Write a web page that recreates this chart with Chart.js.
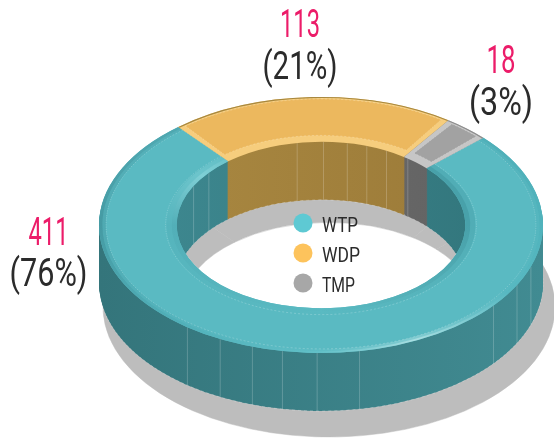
<!DOCTYPE html>
<html lang="en">
<head>
    <meta charset="UTF-8">
    <title>WTP WDP TMP ring</title>
    <script src="https://cdn.jsdelivr.net/npm/chart.js"></script>
    <style>
        html, body { margin: 0; padding: 0; background: #fff; }
        #wrap { width: 554px; height: 438px; position: relative; overflow: hidden; }
    </style>
</head>
<body>
    <div id="wrap"><canvas id="ringChart" width="554" height="438"></canvas></div>

    <script>
        // Data
        const categories = ['WTP', 'WDP', 'TMP'];
        const values = [411, 113, 18];
        const percents = ['(76%)', '(21%)', '(3%)'];

        // Colours
        const faceColors = ['#5abac2', '#ecb85e', '#a2a2a2'];
        const rimColors = ['#5abac2', '#f6cd7d', '#c6c6c6'];
        const dotColors = ['#5ec9d3', '#fdc35c', '#a7a7a7'];
        const innerWallFrom = ['#3f8a92', '#ab8a42', '#747474'];
        const innerWallTo = ['#31747a', '#997837', '#5f5f5f'];
        const outerWallFrom = ['#34757b', '#ab8a42', '#747474'];
        const outerWallTo = ['#418b92', '#997837', '#5f5f5f'];

        // Thin upright seams on the walls, degrees round the ring
        const outerSeams = [-37, -27, -18, -10, -1, 10, 51, 62, 71];
        const innerSeams = [-62, -51, -9.5, 1, 10.5, 18.5, 27, 37];

        // Ellipse the flat ring is squashed into
        const view = { cx: 321, cy: 225, rx: 222, ry: 128, depth: 58 };
        const shadow = { cx: 329, cy: 307, rx: 226, ry: 130 };

        // Label places, index follows categories
        const labelSpots = [
            { x: 48.5, y1: 245, y2: 286, w1: 40, w2: 78 },
            { x: 300, y1: 37, y2: 79, w1: 40, w2: 75 },
            { x: 501, y1: 73, y2: 115, w1: 29, w2: 64 }
        ];
        const legendSpot = { x: 303, y: 223, step: 30, r: 9.5, textX: 322 };
        const legendWidths = [36, 38, 33];

        function squash(ctx, arc, v, dy) {
            const R = arc.outerRadius;
            ctx.translate(v.cx, v.cy + dy);
            ctx.scale(v.rx / R, v.ry / R);
            ctx.translate(-arc.x, -arc.y);
        }

        function drawPiece(ctx, arc, props, options) {
            const piece = new Chart.ArcElement({
                x: arc.x, y: arc.y,
                startAngle: arc.startAngle, endAngle: arc.endAngle,
                innerRadius: arc.innerRadius, outerRadius: arc.outerRadius,
                circumference: arc.endAngle - arc.startAngle,
                ...props
            });
            piece.options = { borderWidth: 0, borderRadius: 0, spacing: 0, offset: 0, borderAlign: 'center', circular: true, ...options };
            piece.draw(ctx);
        }

        function wallGradient(ctx, arc, from, to) {
            const g = ctx.createLinearGradient(arc.x - arc.outerRadius, 0, arc.x + arc.outerRadius, 0);
            g.addColorStop(0, from);
            g.addColorStop(1, to);
            return g;
        }

        function drawWalls(ctx, arcs, from, to) {
            for (let d = view.depth; d >= 1; d--) {
                ctx.save();
                squash(ctx, arcs[0], view, d);
                arcs.forEach((arc, i) => {
                    const opts = { backgroundColor: wallGradient(ctx, arc, from[i], to[i]) };
                    if (d === view.depth) {
                        opts.borderWidth = 0.8;
                        opts.borderColor = 'rgba(255,255,255,0.4)';
                        opts.borderDash = [3, 3];
                    }
                    drawPiece(ctx, arc, {}, opts);
                });
                ctx.restore();
            }
        }

        function drawSeams(ctx, degs, radius, yDir) {
            ctx.save();
            ctx.strokeStyle = 'rgba(255,255,255,0.2)';
            ctx.lineWidth = 1;
            degs.forEach(deg => {
                const a = deg * Math.PI / 180;
                const x = view.cx + view.rx * radius * Math.sin(a);
                const y = view.cy + yDir * view.ry * radius * Math.cos(a);
                ctx.beginPath();
                ctx.moveTo(x, y);
                ctx.lineTo(x, y + view.depth);
                ctx.stroke();
            });
            ctx.restore();
        }

        function drawTop(ctx, arcs) {
            const arc0 = arcs[0];
            const R = arc0.outerRadius;
            const r = arc0.innerRadius;
            ctx.save();
            squash(ctx, arc0, view, 0);

            const outerRim = ctx.createConicGradient(0, arc0.x, arc0.y);
            [[0, '#50b3bc'], [0.09, '#58b9c2'], [0.18, '#a8dee1'], [0.25, '#62c0c8'], [0.35, '#52b2bb'], [0.5, '#459aa3'], [0.6, '#4fa6af'], [1, '#50b3bc']]
                .forEach(s => outerRim.addColorStop(s[0], s[1]));
            const innerRim = ctx.createConicGradient(0, arc0.x, arc0.y);
            [[0, '#48a1aa'], [0.12, '#52adb5'], [0.25, '#5abac2'], [0.5, '#52afb8'], [0.6, '#7fcfd5'], [0.68, '#59b8c0'], [0.85, '#48a1aa'], [1, '#48a1aa']]
                .forEach(s => innerRim.addColorStop(s[0], s[1]));

            const endInset = [0, 0.03, 0.03];

            arcs.forEach((arc, i) => {
                // base is the light rim colour, so the slice ends and hole edge show a bevel
                drawPiece(ctx, arc, {}, { backgroundColor: rimColors[i] });
                if (i === 0) {
                    drawPiece(ctx, arc, { innerRadius: R * 0.97, outerRadius: R }, { backgroundColor: outerRim });
                    drawPiece(ctx, arc, { innerRadius: r, outerRadius: r + R * 0.045 }, { backgroundColor: innerRim });
                    drawPiece(ctx, arc, { innerRadius: R * 0.97, outerRadius: R * 0.985 }, { backgroundColor: 'rgba(90,186,194,0.5)' });
                    drawPiece(ctx, arc, { innerRadius: r + R * 0.022, outerRadius: r + R * 0.045 }, { backgroundColor: 'rgba(90,186,194,0.5)' });
                } else {
                    drawPiece(ctx, arc, { innerRadius: R * 0.992, outerRadius: R }, { backgroundColor: i === 1 ? '#a8883f' : '#8d8d8d' });
                }

                const startA = arc.startAngle + endInset[i];
                const endA = arc.endAngle - endInset[i];
                const face = {
                    startAngle: startA, endAngle: endA, circumference: endA - startA,
                    innerRadius: r + R * 0.05, outerRadius: i === 0 ? R * 0.968 : R * 0.985
                };
                drawPiece(ctx, arc, face, {
                    backgroundColor: faceColors[i],
                    borderWidth: 0.6,
                    borderColor: 'rgba(255,255,255,0.45)',
                    borderDash: [2, 2]
                });
            });
            ctx.restore();
        }

        const ring3d = {
            id: 'ring3d',
            beforeDatasetDraw(chart) {
                const ctx = chart.ctx;
                const arcs = chart.getDatasetMeta(0).data;
                const a0 = arcs[0];

                // ground shadow
                ctx.save();
                squash(ctx, a0, shadow, 0);
                arcs.forEach(arc => drawPiece(ctx, arc, {}, { backgroundColor: '#bdbdbd', borderWidth: 0.6, borderColor: '#bdbdbd' }));
                ctx.restore();

                // outer wall
                drawWalls(ctx, arcs, outerWallFrom, outerWallTo);
                drawSeams(ctx, outerSeams, 1, 1);

                // inner wall, only seen through the hole
                ctx.save();
                ctx.save();
                squash(ctx, a0, view, 0);
                ctx.beginPath();
                ctx.arc(a0.x, a0.y, a0.innerRadius, 0, Math.PI * 2);
                ctx.restore();
                ctx.clip();
                ctx.fillStyle = '#fff';
                ctx.fillRect(0, 0, chart.width, chart.height);
                ctx.save();
                squash(ctx, a0, shadow, 0);
                arcs.forEach(arc => drawPiece(ctx, arc, {}, { backgroundColor: '#bdbdbd', borderWidth: 0.6, borderColor: '#bdbdbd' }));
                ctx.restore();
                drawWalls(ctx, arcs, innerWallFrom, innerWallTo);
                drawSeams(ctx, innerSeams, a0.innerRadius / a0.outerRadius, -1);
                ctx.restore();

                drawTop(ctx, arcs);
                return false;
            },
            afterDraw(chart) {
                const ctx = chart.ctx;
                ctx.save();
                ctx.textAlign = 'center';
                ctx.textBaseline = 'alphabetic';
                labelSpots.forEach((s, i) => {
                    ctx.font = '400 38px Roboto';
                    ctx.fillStyle = '#ec1c69';
                    ctx.fillText(String(values[i]), s.x, s.y1, s.w1);
                    ctx.fillStyle = '#2b2b2b';
                    ctx.fillText(percents[i], s.x, s.y2, s.w2);
                });
                ctx.textAlign = 'left';
                ctx.font = '400 21px Roboto';
                categories.forEach((name, i) => {
                    const y = legendSpot.y + i * legendSpot.step;
                    ctx.fillStyle = dotColors[i];
                    ctx.beginPath();
                    ctx.arc(legendSpot.x, y, legendSpot.r, 0, Math.PI * 2);
                    ctx.fill();
                    ctx.fillStyle = '#2b2b2b';
                    ctx.fillText(name, legendSpot.textX, y + 8.5, legendWidths[i]);
                });
                ctx.restore();
            }
        };

        new Chart(document.getElementById('ringChart'), {
            type: 'doughnut',
            data: {
                labels: categories,
                datasets: [{ data: values, backgroundColor: faceColors, borderWidth: 0 }]
            },
            options: {
                responsive: false,
                animation: false,
                cutout: '65%',
                rotation: 47,
                plugins: { legend: { display: false }, tooltip: { enabled: false } }
            },
            plugins: [ring3d]
        });
    </script>
</body>
</html>
